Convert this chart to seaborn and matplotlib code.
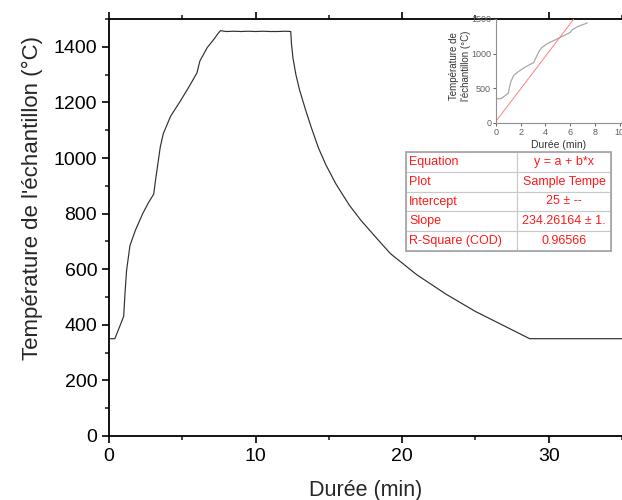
import matplotlib
matplotlib.use("Agg")
import matplotlib.pyplot as plt
import seaborn as sns
import numpy as np
import pandas as pd

# ---- data ----
time_min = [0.0, 0.4, 1.0, 1.1, 1.2, 1.43, 1.8, 2.3, 2.7, 3.05, 3.2, 3.5, 3.7, 4.2, 4.87,
            5.5, 6.0, 6.2, 6.7, 7.2, 7.4, 7.6, 8.0, 8.5, 9.0, 9.5, 10.0, 10.5, 11.0, 11.5,
            12.0, 12.4, 12.45, 12.55, 12.75, 13.0, 13.4, 13.8, 14.3, 14.8, 15.5, 16.4, 17.2,
            18.2, 19.2, 21.0, 23.0, 25.0, 27.0, 28.7, 35.0]
temp_c = [350, 350, 430, 520, 596, 685, 740, 800, 840, 870, 930, 1040, 1087, 1150, 1205,
          1260, 1306, 1349, 1397, 1430, 1445, 1458, 1455, 1456, 1455, 1456, 1455, 1456, 1455, 1455,
          1456, 1455, 1410, 1360, 1300, 1245, 1175, 1110, 1035, 975, 905, 830, 775,
          715, 656, 580, 510, 448, 395, 350, 350]

fit_a = 25.0
fit_b = 234.26164
inset_tmax = 7.4

table_rows = [["Equation", "y = a + b*x"],
              ["Plot", "Sample Tempe"],
              ["Intercept", "25 ± --"],
              ["Slope", "234.26164 ± 1."],
              ["R-Square (COD)", "0.96566"]]

x_label = "Durée (min)"
y_label = "Température de l'échantillon (°C)"
inset_y_label = "Température de\nl'échantillon (°C)"

df = pd.DataFrame({"t": time_min, "T": temp_c})
df_in = df[df["t"] <= inset_tmax]
fit_x = [0.0, 10.2]
fit_df = pd.DataFrame({"t": fit_x, "T": [fit_a + fit_b * v for v in fit_x]})

sns.set_style("ticks")
plt.rcParams["font.family"] = ["Liberation Sans", "DejaVu Sans"]

W, H = 622, 500
fig = plt.figure(figsize=(W / 100, H / 100), dpi=100)

# main axes
ax = fig.add_axes([109 / W, 1 - 436 / H, (W - 109) / W, (436 - 19) / H])
sns.lineplot(data=df, x="t", y="T", ax=ax, color="#303030", lw=0.85, estimator=None, sort=False)
ax.set_xlim(0, 35)
ax.set_ylim(0, 1500)
ax.set_xticks([0, 10, 20, 30])
ax.set_xticks([5, 15, 25, 35], minor=True)
ax.set_yticks(range(0, 1401, 200))
ax.set_yticks(range(100, 1501, 200), minor=True)
ax.tick_params(axis="both", which="major", direction="out", length=5, width=1.2,
               labelsize=14, colors="black")
ax.tick_params(axis="both", which="minor", direction="out", length=3, width=1.2)
ax.tick_params(axis="x", which="both", top=True)
for s in ["left", "bottom", "top"]:
    ax.spines[s].set_linewidth(1.3)
    ax.spines[s].set_color("black")
ax.spines["right"].set_visible(False)
ax.set_xlabel(x_label, fontsize=15.5)
ax.set_ylabel(y_label, fontsize=16)
ax.xaxis.set_label_coords(0.5, -0.105)
ax.yaxis.set_label_coords(-0.128, 0.571)

# inset
axi = fig.add_axes([496 / W, 1 - 123 / H, (W - 496) / W, (123 - 19) / H])
sns.lineplot(data=df_in, x="t", y="T", ax=axi, color="#a8a8a8", lw=0.9, estimator=None, sort=False)
sns.lineplot(data=fit_df, x="t", y="T", ax=axi, color="#ff8080", lw=0.7, estimator=None, sort=False)
axi.set_xlim(0, 10.2)
axi.set_ylim(0, 1500)
axi.set_xticks([0, 2, 4, 6, 8, 10])
axi.set_yticks([0, 500, 1000, 1500])
axi.tick_params(direction="out", length=2, width=0.7, labelsize=6.5, colors="#606060", pad=1.5)
for s in ["left", "bottom"]:
    axi.spines[s].set_color("#909090")
    axi.spines[s].set_linewidth(0.8)
axi.spines["top"].set_visible(False)
axi.spines["right"].set_visible(False)
axi.set_facecolor("none")
axi.set_xlabel(x_label, fontsize=7.5, color="#333333", labelpad=2)
axi.set_ylabel(inset_y_label, fontsize=7, color="#333333", labelpad=2)
axi.yaxis.set_label_coords(-0.2, 0.55)

# table
axt = fig.add_axes([406 / W, 1 - 251 / H, (611 - 406) / W, (251 - 152) / H])
axt.axis("off")
tab = axt.table(cellText=table_rows, bbox=[0, 0, 1, 1], colWidths=[(517 - 406), (611 - 517)],
                cellLoc="center")
tab.auto_set_font_size(False)
for (r, c), cell in tab.get_celld().items():
    cell.set_edgecolor("#c8c8c8")
    cell.set_linewidth(0.8)
    cell.get_text().set_color("#ff1a1a")
    cell.get_text().set_fontsize(9)
    if c == 0:
        cell.get_text().set_ha("left")
        cell._loc = "left"
        cell.PAD = 0.03
axt.add_patch(plt.Rectangle((0, 0), 1, 1, transform=axt.transAxes, fill=False,
                            edgecolor="#a8a8a8", lw=1.3, clip_on=False))

fig.savefig("out.png", dpi=100)
